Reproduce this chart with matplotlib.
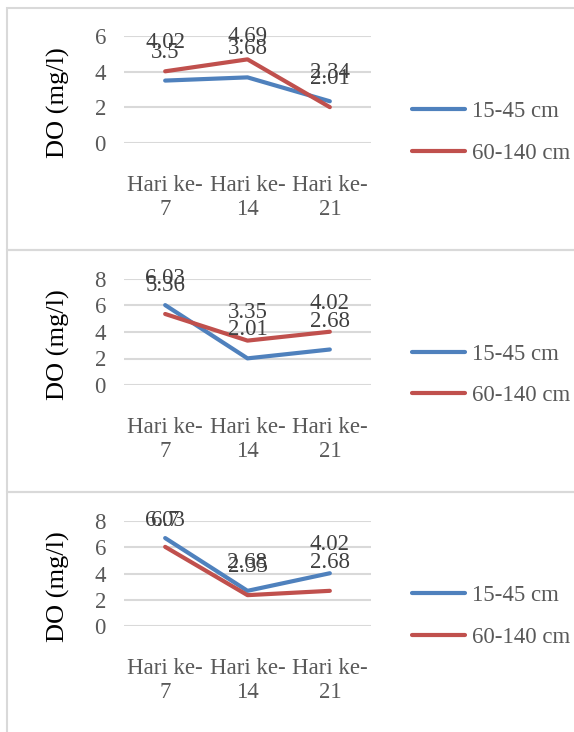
import matplotlib
matplotlib.use("Agg")
import matplotlib.pyplot as plt
from matplotlib.patches import Rectangle

# data
categories = ["Hari ke-\n7", "Hari ke-\n14", "Hari ke-\n21"]
series_names = ["15-45 cm", "60-140 cm"]
p1_shallow = [3.5, 3.68, 2.34]
p1_deep = [4.02, 4.69, 2.01]
p2_shallow = [6.03, 2.01, 2.68]
p2_deep = [5.36, 3.35, 4.02]
p3_shallow = [6.7, 2.68, 4.02]
p3_deep = [6.03, 2.35, 2.68]
y_max = [6, 8, 8]
y_label = "DO (mg/l)"

W, H = 574, 732
BLUE = "#4F81BD"
RED = "#C0504D"
GRID = "#D9D9D9"
FONT = "Liberation Serif"

plt.rcParams["font.family"] = FONT

fig = plt.figure(figsize=(W / 100, H / 100), dpi=100)


def px(x, y):
    # pixel (from top-left) -> figure fraction
    return x / W, 1 - y / H


# chart frames (top, bottom) in pixels
frames = [(8, 250), (250, 492), (492, 740)]
for top, bot in frames:
    x0, y0 = px(7, bot)
    fig.patches.append(Rectangle((x0, y0), (W + 10 - 7) / W, (bot - top) / H,
                                 transform=fig.transFigure, fill=False,
                                 edgecolor=GRID, linewidth=1.5))

# plot areas (top, bottom) in pixels
areas = [(36, 143), (279, 385), (521, 626)]
panels = [(p1_shallow, p1_deep), (p2_shallow, p2_deep), (p3_shallow, p3_deep)]

labels_all = []
for (top, bot), (s1, s2), ym, (ftop, fbot) in zip(areas, panels, y_max, frames):
    l, b = px(124, bot)
    ax = fig.add_axes([l, b, 247 / W, (bot - top) / H])
    x = range(len(categories))
    ax.plot(x, s1, color=BLUE, lw=3, solid_capstyle="round", label=series_names[0], zorder=3)
    ax.plot(x, s2, color=RED, lw=3, solid_capstyle="round", label=series_names[1], zorder=3)
    ax.set_xlim(-0.5, len(categories) - 0.5)
    ax.set_ylim(0, ym)
    ax.set_yticks(range(0, ym + 1, 2))
    ax.grid(axis="y", color=GRID, lw=1.5)
    ax.set_axisbelow(True)
    for sp in ax.spines.values():
        sp.set_visible(False)
    ax.tick_params(length=0, labelsize=16.5, labelcolor="#595959")
    ax.tick_params(axis="y", pad=13)
    ax.tick_params(axis="x", pad=23)
    ax.set_xticks(list(x))
    ax.set_xticklabels(categories, linespacing=1.2)

    for vals in (s1, s2):
        for i, v in enumerate(vals):
            t = ax.annotate(f"{v:g}", (i, v), xytext=(0, 16.5), textcoords="offset points",
                            ha="center", va="baseline", fontsize=16.5, color="#404040",
                            zorder=4)
            labels_all.append((t, ftop))

    fx, fy = px(58, (top + bot) / 2 + 13)
    fig.text(fx, fy, y_label, rotation=90, ha="center", va="center",
             fontsize=19, color="black")

    lx, ly = px(412, (top + bot) / 2 + 43)
    ax.legend(loc="center left", bbox_to_anchor=(lx, ly), bbox_transform=fig.transFigure,
              frameon=False, fontsize=16.5, labelcolor="#595959", handlelength=2.3,
              handletextpad=0.3, labelspacing=0.88, borderpad=0, borderaxespad=0)

# keep data labels inside the chart frame, like the spreadsheet does
fig.canvas.draw()
renderer = fig.canvas.get_renderer()
for t, ftop in labels_all:
    bb = t.get_window_extent(renderer)
    limit = H - (ftop + 18)
    if bb.y1 > limit:
        dx, dy = t.xyann
        t.xyann = (dx, dy - (bb.y1 - limit) * 72 / 100)

fig.savefig("out.png", dpi=100)
